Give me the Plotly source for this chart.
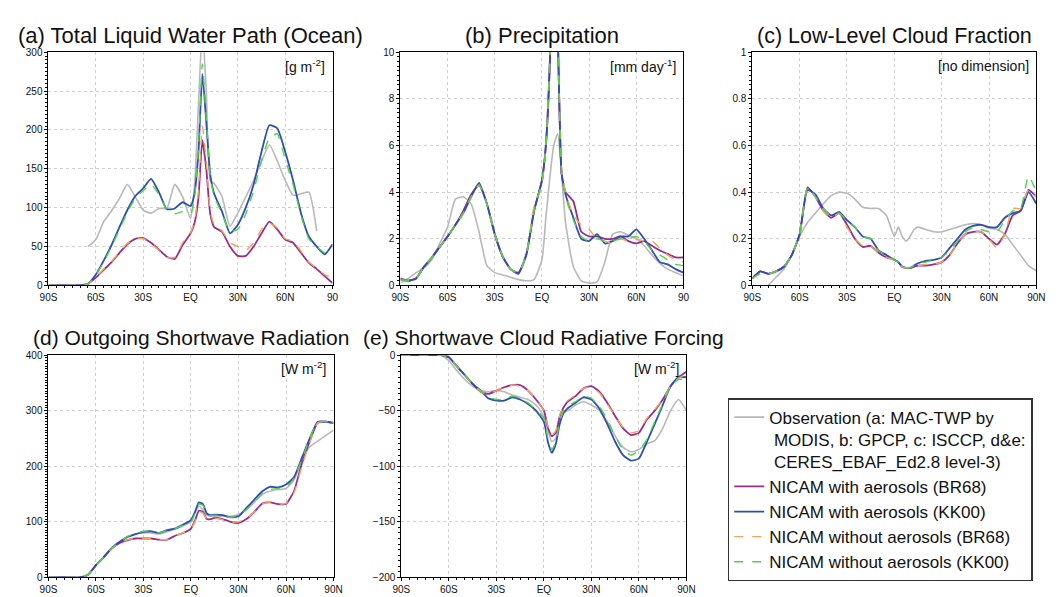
import plotly.graph_objects as go

# latitude grid shared by every panel (denser around the ITCZ)
LAT = [-90, -85, -80, -75, -70, -65, -60, -55, -50, -45, -40, -35, -30, -25, -20, -15,
       -10, -5, 0, 2.5, 5, 7.5, 10, 12.5, 15, 20, 25, 30, 35, 40, 45, 50, 55, 60, 65, 70,
       75, 80, 85, 90]
LAT_TICKS = [-90, -60, -30, 0, 30, 60, 90]
LAT_LABELS = ["90S", "60S", "30S", "EQ", "30N", "60N", "90N"]

# (a) total liquid water path over ocean [g m-2]
A_OBS = [None, None, None, None, None, 50, 59, 82, 96, 112, 130, 114, 97, 93, 99, 99, 130, 114,
         86, 126, 230, 330, 250, 135, 131, 114, 76, 93, 114, 135, 160, 181, 160, 135, 116, 118,
         120, 70, None, None]
A_BR = [0, 0, 0, 0, 0, 2, 10, 20, 30, 42, 53, 60, 61, 55, 46, 37, 34, 52, 67, 80, 112, 187, 150,
        92, 75, 69, 50, 38, 38, 50, 67, 82, 72, 59, 55, 42, 29, 21, 12, 3]
A_KK = [0, 0, 0, 0, 0, 2, 14, 32, 52, 75, 97, 115, 125, 137, 120, 98, 99, 107, 102, 118, 170, 272,
        210, 143, 118, 95, 67, 78, 100, 130, 172, 206, 202, 172, 135, 93, 63, 50, 40, 53]
A_BR_NO = [0, 0, 0, 0, 0, 2, 10, 21, 31, 43, 54, 60, 60, 54, 45, 36, 36, 55, 68, 82, 120, 205, 160,
           95, 78, 70, 55, 50, 45, 55, 72, 80, 74, 60, 57, 44, 30, 22, 14, 10]
A_KK_NO = [0, 0, 0, 0, 0, 2, 13, 30, 50, 72, 94, 112, 122, 130, 117, 97, 92, 95, 92, 112, 175, 285,
           215, 140, 115, 92, 70, 72, 92, 122, 160, 190, 195, 162, 130, 90, 60, 50, 42, 38]

# (b) precipitation [mm day-1]
B_OBS = [0.1, 0.3, 0.55, 0.75, 1.1, 1.8, 2.5, 3.7, 3.8, 3.5, 2.3, 0.85, 0.55, 0.45, 0.35, 0.25,
         0.2, 0.25, 1.1, 2.9, 4.6, 6.0, 6.5, 4.8, 2.7, 0.8, 0.2, 0.1, 0.15, 1.0, 2.2, 2.3, 2.15,
         2.0, 1.7, 1.3, 0.95, 0.7, 0.55, 0.4]
B_BR = [0.3, 0.2, 0.3, 0.8, 1.2, 1.65, 2.1, 2.6, 3.2, 3.9, 4.3, 3.5, 2.2, 1.25, 0.7, 0.55, 1.3,
        3.2, 4.5, 6.0, 9.5, 16, 11, 4.8, 4.0, 3.6, 2.3, 2.1, 2.1, 2.0, 2.0, 2.1, 1.9, 1.8, 1.9,
        1.7, 1.5, 1.35, 1.2, 1.2]
B_KK = [0.25, 0.2, 0.3, 0.8, 1.2, 1.65, 2.1, 2.6, 3.1, 3.8, 4.4, 3.5, 2.2, 1.25, 0.7, 0.5, 1.3,
        3.2, 4.5, 6.0, 9.5, 16, 11, 4.8, 3.9, 2.9, 2.0, 1.9, 2.2, 1.8, 1.9, 2.1, 2.1, 2.4, 2.0,
        1.5, 1.0, 0.9, 0.7, 0.55]
B_BR_NO = [0.25, 0.2, 0.3, 0.8, 1.2, 1.65, 2.1, 2.6, 3.1, 3.8, 4.3, 3.5, 2.2, 1.25, 0.7, 0.55,
           1.3, 3.4, 4.3, 6.0, 9.5, 16, 11, 5.0, 4.0, 3.0, 2.6, 2.4, 2.0, 1.9, 1.8, 2.0, 1.9, 2.0,
           1.9, 1.9, 1.6, 1.3, 1.1, 1.0]
B_KK_NO = [0.25, 0.2, 0.3, 0.8, 1.2, 1.65, 2.1, 2.6, 3.1, 3.8, 4.3, 3.5, 2.2, 1.25, 0.7, 0.55,
           1.3, 3.2, 4.4, 6.0, 9.5, 16, 11, 4.8, 3.8, 2.8, 2.1, 1.9, 2.0, 1.9, 1.9, 2.0, 2.0, 2.1,
           1.9, 1.5, 1.3, 1.1, 0.9, 0.85]

# (c) low-level cloud fraction
C_OBS = [None, None, 0.0, 0.035, 0.07, 0.13, 0.21, 0.27, 0.31, 0.35, 0.385, 0.40, 0.395, 0.37,
         0.335, 0.33, 0.33, 0.30, 0.21, 0.25, 0.21, 0.19, 0.21, 0.24, 0.25, 0.24, 0.23, 0.23,
         0.24, 0.25, 0.26, 0.265, 0.26, 0.245, 0.24, 0.22, 0.175, 0.13, 0.085, 0.063]
C_BR = [0.03, 0.06, 0.05, 0.06, 0.08, 0.13, 0.22, 0.42, 0.38, 0.32, 0.29, 0.31, 0.26, 0.20, 0.165,
        0.17, 0.14, 0.12, 0.11, 0.10, 0.08, 0.075, 0.075, 0.08, 0.085, 0.085, 0.09, 0.10, 0.13,
        0.18, 0.22, 0.23, 0.23, 0.20, 0.175, 0.22, 0.30, 0.32, 0.41, 0.38]
C_KK = [0.03, 0.06, 0.05, 0.06, 0.08, 0.13, 0.22, 0.41, 0.39, 0.33, 0.30, 0.315, 0.28, 0.25, 0.21,
        0.20, 0.15, 0.13, 0.11, 0.10, 0.08, 0.075, 0.075, 0.085, 0.095, 0.105, 0.11, 0.12, 0.16,
        0.20, 0.24, 0.255, 0.26, 0.25, 0.25, 0.29, 0.31, 0.32, 0.40, 0.35]
C_BR_NO = [0.03, 0.05, 0.05, 0.06, 0.08, 0.13, 0.22, 0.42, 0.38, 0.32, 0.29, 0.31, 0.25, 0.20,
           0.17, 0.17, 0.14, 0.12, 0.11, 0.10, 0.08, 0.075, 0.075, 0.08, 0.085, 0.09, 0.09, 0.10,
           0.13, 0.18, 0.22, 0.23, 0.23, 0.20, 0.16, 0.22, 0.33, 0.33, 0.41, 0.38]
C_KK_NO = [0.03, 0.05, 0.05, 0.06, 0.08, 0.13, 0.22, 0.42, 0.38, 0.33, 0.30, 0.31, 0.28, 0.25,
           0.21, 0.20, 0.15, 0.13, 0.11, 0.10, 0.08, 0.075, 0.075, 0.085, 0.095, 0.10, 0.11, 0.12,
           0.15, 0.19, 0.23, 0.25, 0.24, 0.23, 0.23, 0.28, 0.32, 0.33, 0.47, 0.40]

# (d) outgoing shortwave radiation [W m-2]
D_OBS = [0, 0, 0, 0, 0, 5, 22, 37, 53, 64, 73, 78, 80, 80, 78, 82, 87, 93, 100, 115, 128, 122, 112,
         110, 110, 110, 110, 113, 122, 135, 150, 155, 158, 160, 175, 210, 235, 245, 255, 265]
D_BR = [0, 0, 0, 0, 0, 5, 22, 37, 52, 62, 67, 70, 70, 70, 68, 68, 75, 80, 88, 102, 120, 118, 105,
        105, 107, 105, 100, 98, 105, 118, 133, 135, 132, 132, 155, 205, 245, 278, 280, 278]
D_KK = [0, 0, 0, 0, 0, 5, 22, 37, 53, 64, 73, 78, 82, 83, 80, 85, 88, 95, 103, 118, 135, 132, 115,
        112, 113, 112, 108, 110, 125, 140, 155, 163, 162, 167, 180, 215, 250, 280, 280, 278]
D_BR_NO = [0, 0, 0, 0, 0, 5, 22, 37, 52, 62, 68, 70, 70, 70, 68, 68, 75, 80, 88, 100, 118, 116,
           105, 104, 106, 104, 100, 100, 106, 118, 132, 135, 132, 133, 152, 200, 243, 278, 280, 279]
D_KK_NO = [0, 0, 0, 0, 0, 5, 22, 37, 53, 64, 74, 79, 83, 83, 80, 85, 88, 94, 100, 115, 132, 130,
           113, 111, 112, 110, 108, 112, 122, 136, 150, 158, 160, 162, 178, 212, 250, 280, 280, 280]

# (e) shortwave cloud radiative forcing [W m-2]
E_OBS = [0, 0, 0, 0, 0, 0, -5, -14, -22, -28, -32, -33, -32, -33, -36, -38, -40, -45, -55, -68,
         -78, -75, -60, -52, -50, -45, -42, -45, -50, -60, -73, -83, -87, -85, -80, -77, -66, -50,
         -40, -50]
E_BR = [0, 0, 0, 0, 0, 0, -2, -10, -18, -26, -33, -35, -32, -29, -27, -27, -32, -40, -50, -65,
        -73, -70, -55, -47, -42, -37, -30, -28, -33, -43, -55, -66, -72, -70, -58, -50, -40, -28,
        -20, -15]
E_KK = [0, 0, 0, 0, 0, 0, -2, -10, -18, -26, -32, -39, -41, -41, -38, -40, -44, -50, -60, -78,
        -88, -80, -62, -52, -48, -43, -38, -40, -48, -62, -78, -90, -95, -93, -78, -62, -45, -28,
        -20, -20]
E_BR_NO = [0, 0, 0, 0, 0, 0, -2, -10, -18, -26, -33, -35, -32, -29, -27, -28, -32, -40, -50, -64,
           -72, -68, -54, -46, -41, -36, -30, -29, -34, -44, -55, -65, -70, -68, -57, -49, -40,
           -28, -21, -17]
E_KK_NO = [0, 0, 0, 0, 0, 0, -2, -10, -18, -26, -32, -38, -40, -40, -37, -39, -43, -49, -57, -75,
           -85, -78, -60, -50, -46, -42, -37, -39, -46, -58, -73, -85, -90, -86, -76, -60, -44,
           -28, -22, -22]

NAMES = ["Observation (a: MAC-TWP by<br> MODIS, b: GPCP, c: ISCCP, d&e:<br> CERES_EBAF_Ed2.8 level-3)",
         "NICAM with aerosols (BR68)",
         "NICAM with aerosols (KK00)",
         "NICAM without aerosols (BR68)",
         "NICAM without aerosols (KK00)"]
COLORS = ["#b8b8b8", "#9a2c8e", "#2d4fb5", "#f2a55a", "#4fd24a"]
DASHES = ["solid", "solid", "solid", "dash", "dash"]
WIDTHS = [1.6, 1.8, 1.8, 1.4, 1.4]

# panel: title, title size, unit, series, y range, y ticks, x pixels, y pixels, last x label
PANELS = [
    ("(a) Total Liquid Water Path (Ocean)", 22, "[g m<sup>-2</sup>]",
     [A_OBS, A_BR, A_KK, A_BR_NO, A_KK_NO], [0, 300], [0, 50, 100, 150, 200, 250, 300],
     [32, 321], [39, 277], "90"),
    ("(b) Precipitation", 22, "[mm day<sup>-1</sup>]",
     [B_OBS, B_BR, B_KK, B_BR_NO, B_KK_NO], [0, 10], [0, 2, 4, 6, 8, 10],
     [390, 678], [39, 277], "90"),
    ("(c) Low-Level Cloud Fraction", 21.5, "[no dimension]",
     [C_OBS, C_BR, C_KK, C_BR_NO, C_KK_NO], [0, 1], [0, 0.2, 0.4, 0.6, 0.8, 1],
     [748, 1037], [39, 277], "90N"),
    ("(d) Outgoing Shortwave Radiation", 21, "[W m<sup>-2</sup>]",
     [D_OBS, D_BR, D_KK, D_BR_NO, D_KK_NO], [0, 400], [0, 100, 200, 300, 400],
     [32, 322], [348, 575], "90N"),
    ("(e) Shortwave Cloud Radiative Forcing", 21, "[W m<sup>-2</sup>]",
     [E_OBS, E_BR, E_KK, E_BR_NO, E_KK_NO], [-200, 0], [-200, -150, -100, -50, 0],
     [391, 681], [348, 575], "90N"),
]

W, H = 1060, 597
FONT = "Liberation Sans, Arial, sans-serif"

fig = go.Figure()
layout = {}
annotations = []

for i, (title, tsize, unit, series, yrange, yticks, xpx, ypx, last) in enumerate(PANELS):
    n = "" if i == 0 else str(i + 1)
    for j, ys in enumerate(series):
        fig.add_trace(go.Scatter(
            x=LAT, y=ys, mode="lines", name=NAMES[j],
            line=dict(color=COLORS[j], width=WIDTHS[j], dash=DASHES[j],
                      shape="spline", smoothing=0.5),
            xaxis="x" + n, yaxis="y" + n, legendgroup=str(j), showlegend=(i == 0),
            connectgaps=False,
        ))
    labels = LAT_LABELS[:-1] + [last]
    common = dict(showline=True, linecolor="black", linewidth=1, mirror=True,
                  ticks="outside", ticklen=3, tickcolor="black",
                  showgrid=True, gridcolor="#cfcfcf", griddash="dot", gridwidth=1,
                  zeroline=False, tickfont=dict(family=FONT, size=10, color="#111"))
    layout["xaxis" + n] = dict(
        common, domain=[xpx[0] / W, xpx[1] / W], range=[-90, 90], anchor="y" + n,
        tickmode="array", tickvals=LAT_TICKS, ticktext=labels,
        minor=dict(tickmode="linear", tick0=-90, dtick=5, ticks="outside", ticklen=2,
                   tickcolor="black", showgrid=False))
    layout["yaxis" + n] = dict(
        common, domain=[1 - ypx[1] / H, 1 - ypx[0] / H], range=yrange, anchor="x" + n,
        tickmode="array", tickvals=yticks,
        minor=dict(nticks=20, ticks="outside", ticklen=2, tickcolor="black", showgrid=False))
    # panel title centred over the frame
    title_y = 22 if ypx[0] < 100 else 330
    annotations.append(dict(
        text=title, xref="paper", yref="paper", x=(xpx[0] + xpx[1]) / 2 / W,
        y=1 - title_y / H, xanchor="center", yanchor="middle", showarrow=False,
        font=dict(family=FONT, size=tsize, color="#111")))
    annotations.append(dict(
        text=unit, xref="x" + n + " domain", yref="y" + n + " domain", x=0.98, y=0.94,
        xanchor="right", yanchor="middle", showarrow=False,
        font=dict(family=FONT, size=14, color="#111")))

fig.update_layout(
    **layout,
    annotations=annotations,
    width=W, height=H,
    margin=dict(l=0, r=0, t=0, b=0),
    paper_bgcolor="white", plot_bgcolor="white",
    showlegend=True,
    legend=dict(x=723 / W, y=1 - 392 / H, xanchor="left", yanchor="top",
                bgcolor="white", bordercolor="#333", borderwidth=1.5, valign="top",
                font=dict(family=FONT, size=17, color="#111"),
                tracegroupgap=0, itemwidth=30),
)

fig.write_html("out.html")
